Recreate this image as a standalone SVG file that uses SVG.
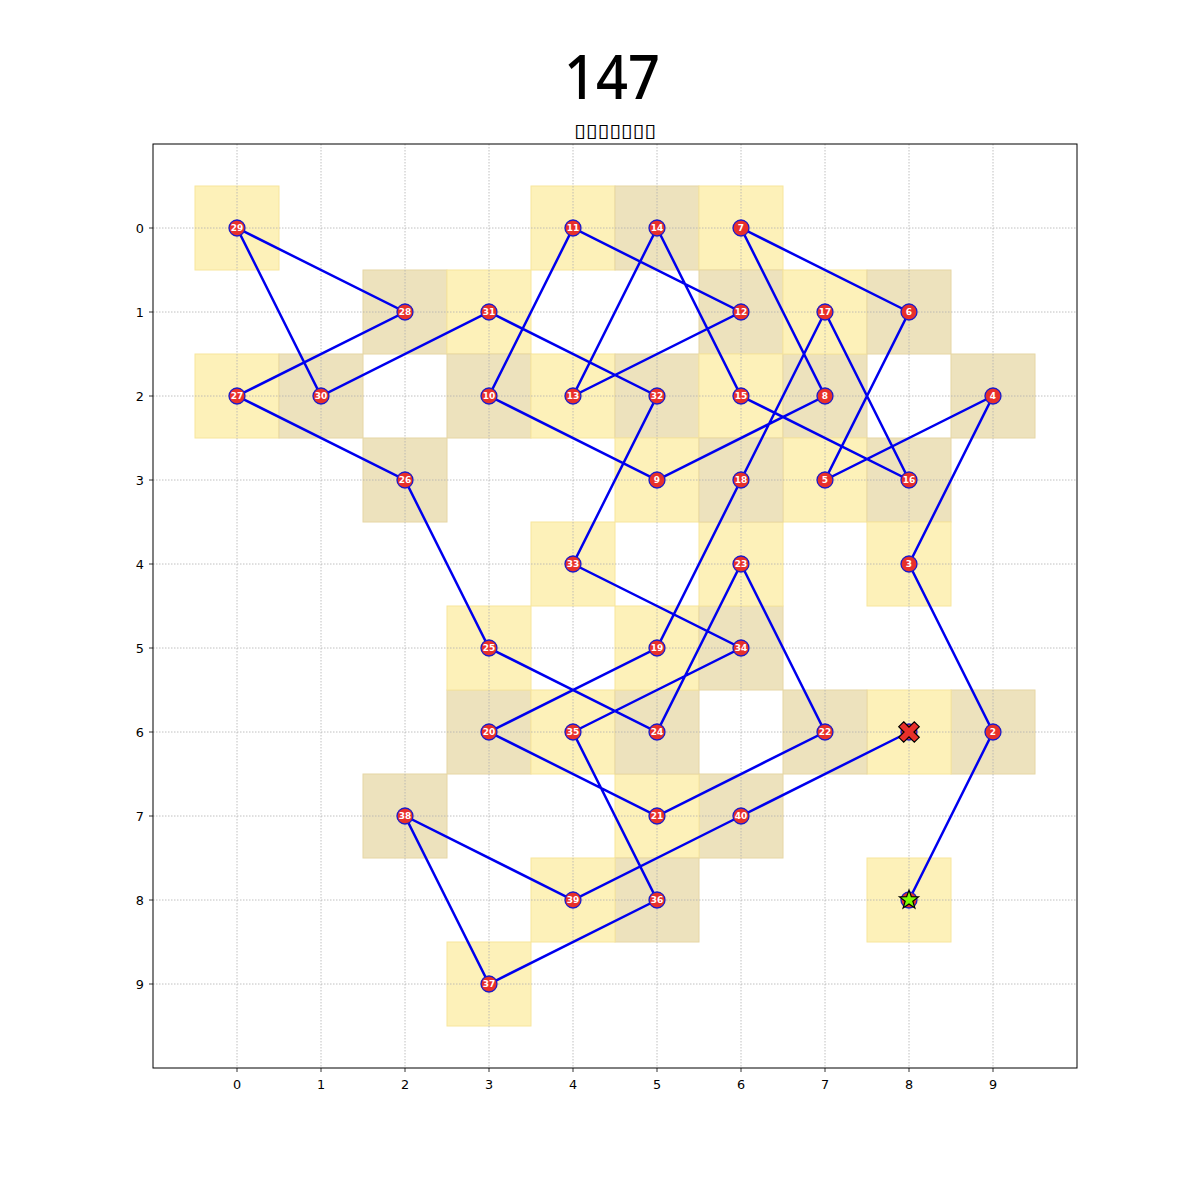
<svg xmlns="http://www.w3.org/2000/svg" width="1200" height="1200" viewBox="0 0 1200 1200">
<style>
.y{fill:#fdf1b9;stroke:#f7e59c;stroke-width:1}
.t{fill:#ede2bd;stroke:#e6d6a4;stroke-width:1}
.g{stroke:#b0b0b0;stroke-width:0.8;stroke-dasharray:1.5,1.5;fill:none}
.e{stroke:#0000ee;stroke-width:2.5;fill:none;stroke-linecap:round}
.n circle{fill:#e8302a;stroke:#1a1acc;stroke-width:1.3}
.n text{fill:#fff;font-family:"DejaVu Sans",sans-serif;font-weight:bold;font-size:9px;text-anchor:middle}
.tk{font-family:"DejaVu Sans",sans-serif;font-size:12.8px;fill:#000}
</style>
<rect width="1200" height="1200" fill="#fff"/>
<text x="612" y="99" font-family="'Noto Sans','DejaVu Sans',sans-serif" font-weight="500" font-size="61" text-anchor="middle" textLength="96" lengthAdjust="spacingAndGlyphs">147</text>
<text x="615" y="137" font-family="'DejaVu Sans',sans-serif" font-size="19" fill="#000" text-anchor="middle" textLength="82" lengthAdjust="spacingAndGlyphs">▯▯▯▯▯▯▯</text>
<g id="cells">
<rect class="y" x="195" y="186" width="84" height="84"/>
<rect class="t" x="363" y="270" width="84" height="84"/>
<rect class="y" x="195" y="354" width="84" height="84"/>
<rect class="t" x="279" y="354" width="84" height="84"/>
<rect class="y" x="447" y="270" width="84" height="84"/>
<rect class="t" x="447" y="354" width="84" height="84"/>
<rect class="y" x="531" y="186" width="84" height="84"/>
<rect class="t" x="615" y="186" width="84" height="84"/>
<rect class="y" x="699" y="186" width="84" height="84"/>
<rect class="t" x="699" y="270" width="84" height="84"/>
<rect class="y" x="531" y="354" width="84" height="84"/>
<rect class="t" x="615" y="354" width="84" height="84"/>
<rect class="y" x="699" y="354" width="84" height="84"/>
<rect class="t" x="783" y="354" width="84" height="84"/>
<rect class="y" x="783" y="270" width="84" height="84"/>
<rect class="t" x="867" y="270" width="84" height="84"/>
<rect class="t" x="951" y="354" width="84" height="84"/>
<rect class="y" x="783" y="438" width="84" height="84"/>
<rect class="t" x="867" y="438" width="84" height="84"/>
<rect class="y" x="867" y="522" width="84" height="84"/>
<rect class="t" x="951" y="690" width="84" height="84"/>
<rect class="y" x="867" y="858" width="84" height="84"/>
<rect class="y" x="867" y="690" width="84" height="84"/>
<rect class="t" x="783" y="690" width="84" height="84"/>
<rect class="t" x="699" y="774" width="84" height="84"/>
<rect class="y" x="615" y="774" width="84" height="84"/>
<rect class="t" x="615" y="858" width="84" height="84"/>
<rect class="y" x="531" y="858" width="84" height="84"/>
<rect class="y" x="447" y="942" width="84" height="84"/>
<rect class="t" x="363" y="774" width="84" height="84"/>
<rect class="t" x="447" y="690" width="84" height="84"/>
<rect class="y" x="531" y="690" width="84" height="84"/>
<rect class="t" x="615" y="690" width="84" height="84"/>
<rect class="y" x="447" y="606" width="84" height="84"/>
<rect class="y" x="615" y="606" width="84" height="84"/>
<rect class="t" x="699" y="606" width="84" height="84"/>
<rect class="y" x="531" y="522" width="84" height="84"/>
<rect class="y" x="699" y="522" width="84" height="84"/>
<rect class="t" x="363" y="438" width="84" height="84"/>
<rect class="y" x="615" y="438" width="84" height="84"/>
<rect class="t" x="699" y="438" width="84" height="84"/>
</g>
<g id="grid" class="g">
<path d="M237 144V1068M321 144V1068M405 144V1068M489 144V1068M573 144V1068M657 144V1068M741 144V1068M825 144V1068M909 144V1068M993 144V1068"/>
<path d="M153 228H1077M153 312H1077M153 396H1077M153 480H1077M153 564H1077M153 648H1077M153 732H1077M153 816H1077M153 900H1077M153 984H1077"/>
</g>
<rect x="153" y="144" width="924" height="924" fill="none" stroke="#000" stroke-width="1"/>
<g id="ticks" stroke="#000" stroke-width="0.8">
<path d="M237 1068v4M321 1068v4M405 1068v4M489 1068v4M573 1068v4M657 1068v4M741 1068v4M825 1068v4M909 1068v4M993 1068v4"/>
<path d="M153 228h-4M153 312h-4M153 396h-4M153 480h-4M153 564h-4M153 648h-4M153 732h-4M153 816h-4M153 900h-4M153 984h-4"/>
</g>
<g class="tk" text-anchor="middle">
<text x="237" y="1089">0</text><text x="321" y="1089">1</text><text x="405" y="1089">2</text><text x="489" y="1089">3</text><text x="573" y="1089">4</text><text x="657" y="1089">5</text><text x="741" y="1089">6</text><text x="825" y="1089">7</text><text x="909" y="1089">8</text><text x="993" y="1089">9</text>
</g>
<g class="tk" text-anchor="end">
<text x="144" y="232.5">0</text><text x="144" y="316.5">1</text><text x="144" y="400.5">2</text><text x="144" y="484.5">3</text><text x="144" y="568.5">4</text><text x="144" y="652.5">5</text><text x="144" y="736.5">6</text><text x="144" y="820.5">7</text><text x="144" y="904.5">8</text><text x="144" y="988.5">9</text>
</g>
<g id="connectors">
<polyline class="e" points="909,900 993,732 909,564 993,396 825,480 909,312 741,228 825,396 657,480 489,396 573,228 741,312 573,396 657,228 741,396 909,480 825,312 741,480 657,648 489,732 657,816 825,732 741,564 657,732 489,648 405,480 237,396 405,312 237,228 321,396 489,312 657,396 573,564 741,648 573,732 657,900 489,984 405,816 573,900 741,816 909,732"/>
</g>
<g id="n1" class="n"><circle cx="909" cy="900" r="8"/><path d="M909 890 L911.35 896.76 L918.51 896.91 L912.8 901.24 L914.88 908.09 L909 904 L903.12 908.09 L905.2 901.24 L899.49 896.91 L906.65 896.76Z" fill="#7cfc00" stroke="#000" stroke-width="1.2"/></g>
<g id="n2" class="n"><circle cx="993" cy="732" r="8"/><text x="993" y="735.2">2</text></g>
<g id="n3" class="n"><circle cx="909" cy="564" r="8"/><text x="909" y="567.2">3</text></g>
<g id="n4" class="n"><circle cx="993" cy="396" r="8"/><text x="993" y="399.2">4</text></g>
<g id="n5" class="n"><circle cx="825" cy="480" r="8"/><text x="825" y="483.2">5</text></g>
<g id="n6" class="n"><circle cx="909" cy="312" r="8"/><text x="909" y="315.2">6</text></g>
<g id="n7" class="n"><circle cx="741" cy="228" r="8"/><text x="741" y="231.2">7</text></g>
<g id="n8" class="n"><circle cx="825" cy="396" r="8"/><text x="825" y="399.2">8</text></g>
<g id="n9" class="n"><circle cx="657" cy="480" r="8"/><text x="657" y="483.2">9</text></g>
<g id="n10" class="n"><circle cx="489" cy="396" r="8"/><text x="489" y="399.2">10</text></g>
<g id="n11" class="n"><circle cx="573" cy="228" r="8"/><text x="573" y="231.2">11</text></g>
<g id="n12" class="n"><circle cx="741" cy="312" r="8"/><text x="741" y="315.2">12</text></g>
<g id="n13" class="n"><circle cx="573" cy="396" r="8"/><text x="573" y="399.2">13</text></g>
<g id="n14" class="n"><circle cx="657" cy="228" r="8"/><text x="657" y="231.2">14</text></g>
<g id="n15" class="n"><circle cx="741" cy="396" r="8"/><text x="741" y="399.2">15</text></g>
<g id="n16" class="n"><circle cx="909" cy="480" r="8"/><text x="909" y="483.2">16</text></g>
<g id="n17" class="n"><circle cx="825" cy="312" r="8"/><text x="825" y="315.2">17</text></g>
<g id="n18" class="n"><circle cx="741" cy="480" r="8"/><text x="741" y="483.2">18</text></g>
<g id="n19" class="n"><circle cx="657" cy="648" r="8"/><text x="657" y="651.2">19</text></g>
<g id="n20" class="n"><circle cx="489" cy="732" r="8"/><text x="489" y="735.2">20</text></g>
<g id="n21" class="n"><circle cx="657" cy="816" r="8"/><text x="657" y="819.2">21</text></g>
<g id="n22" class="n"><circle cx="825" cy="732" r="8"/><text x="825" y="735.2">22</text></g>
<g id="n23" class="n"><circle cx="741" cy="564" r="8"/><text x="741" y="567.2">23</text></g>
<g id="n24" class="n"><circle cx="657" cy="732" r="8"/><text x="657" y="735.2">24</text></g>
<g id="n25" class="n"><circle cx="489" cy="648" r="8"/><text x="489" y="651.2">25</text></g>
<g id="n26" class="n"><circle cx="405" cy="480" r="8"/><text x="405" y="483.2">26</text></g>
<g id="n27" class="n"><circle cx="237" cy="396" r="8"/><text x="237" y="399.2">27</text></g>
<g id="n28" class="n"><circle cx="405" cy="312" r="8"/><text x="405" y="315.2">28</text></g>
<g id="n29" class="n"><circle cx="237" cy="228" r="8"/><text x="237" y="231.2">29</text></g>
<g id="n30" class="n"><circle cx="321" cy="396" r="8"/><text x="321" y="399.2">30</text></g>
<g id="n31" class="n"><circle cx="489" cy="312" r="8"/><text x="489" y="315.2">31</text></g>
<g id="n32" class="n"><circle cx="657" cy="396" r="8"/><text x="657" y="399.2">32</text></g>
<g id="n33" class="n"><circle cx="573" cy="564" r="8"/><text x="573" y="567.2">33</text></g>
<g id="n34" class="n"><circle cx="741" cy="648" r="8"/><text x="741" y="651.2">34</text></g>
<g id="n35" class="n"><circle cx="573" cy="732" r="8"/><text x="573" y="735.2">35</text></g>
<g id="n36" class="n"><circle cx="657" cy="900" r="8"/><text x="657" y="903.2">36</text></g>
<g id="n37" class="n"><circle cx="489" cy="984" r="8"/><text x="489" y="987.2">37</text></g>
<g id="n38" class="n"><circle cx="405" cy="816" r="8"/><text x="405" y="819.2">38</text></g>
<g id="n39" class="n"><circle cx="573" cy="900" r="8"/><text x="573" y="903.2">39</text></g>
<g id="n40" class="n"><circle cx="741" cy="816" r="8"/><text x="741" y="819.2">40</text></g>
<g id="n41" class="n"><circle cx="909" cy="732" r="8"/><path transform="translate(909 732) rotate(45)" d="M-11 -3.5H-3.5V-11H3.5V-3.5H11V3.5H3.5V11H-3.5V3.5H-11Z" fill="#e8302a" stroke="#000" stroke-width="1.2"/></g>
</svg>
